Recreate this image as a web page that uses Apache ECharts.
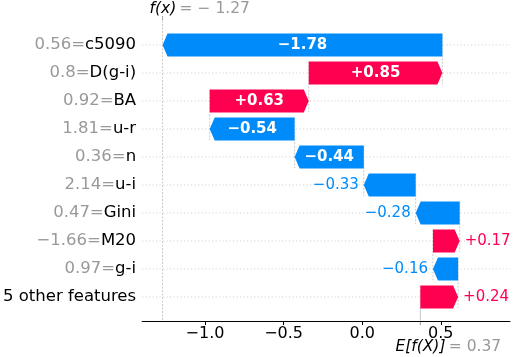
<!DOCTYPE html>
<html>
<head>
<meta charset="utf-8">
<script src="https://cdn.jsdelivr.net/npm/echarts@6/dist/echarts.min.js"></script>
<style>
  html, body { margin: 0; padding: 0; background: #fff; }
  #chart { width: 515px; height: 357px; }
</style>
</head>
<body>
<div id="chart"></div>
<script>
// Donnees (ordre du haut vers le bas)
const features = ['c5090', 'D(g-i)', 'BA', 'u-r', 'n', 'u-i', 'Gini', 'M20', 'g-i', '5 other features'];
const featureValues = ['0.56', '0.8', '0.92', '1.81', '0.36', '2.14', '0.47', '-1.66', '0.97', null];
const shapValues = [-1.78, 0.85, 0.63, -0.54, -0.44, -0.33, -0.28, 0.17, -0.16, 0.24];
const baseValue = 0.37;
const xTicks = [-1.0, -0.5, 0.0, 0.5];

const POS = '#ff0051';
const NEG = '#008bfb';
const FONT = 'DejaVu Sans';
const Y_MIN = -1, Y_MAX = 9.86;

const minus = s => String(s).replace('-', '\u2212');

// cumul : la ligne du bas part de E[f(X)]
const starts = [];
let acc = baseValue;
for (let i = shapValues.length - 1; i >= 0; i--) {
    starts[i] = acc;
    acc += shapValues[i];
}
const fx = acc;

const barData = shapValues.map((v, i) => [starts[i], starts[i] + v, i, v]);
const rowData = features.map((_, i) => [0, i]);
// traits verticaux : depart de chaque barre, f(x) sur toute la hauteur, E[f(X)] en bas
const connectorData = starts.map((s, i) => [s, i - 0.4, i + 1.4]);
connectorData.push([fx, Y_MIN, Y_MAX]);
connectorData.push([baseValue, Y_MAX - (Y_MAX - Y_MIN) / 10, Y_MAX]);

function renderRow(params, api) {
    const cs = params.coordSys;
    const y = api.coord([0, api.value(1)])[1];
    return {
        type: 'line',
        shape: { x1: cs.x, y1: y, x2: cs.x + cs.width, y2: y },
        style: { stroke: '#cccccc', lineWidth: 1, lineDash: [1, 2.5] }
    };
}

function renderConnector(params, api) {
    const cs = params.coordSys;
    const x = api.coord([api.value(0), 0])[0];
    let y0 = api.coord([0, api.value(1)])[1];
    let y1 = api.coord([0, api.value(2)])[1];
    y0 = Math.max(cs.y, Math.min(cs.y + cs.height, y0));
    y1 = Math.max(cs.y, Math.min(cs.y + cs.height, y1));
    return {
        type: 'line',
        shape: { x1: x, y1: y0, x2: x, y2: y1 },
        style: { stroke: '#bbbbbb', lineWidth: 0.8, lineDash: [2, 1.5] }
    };
}

function renderBar(params, api) {
    const v = api.value(3);
    const row = api.value(2);
    const p0 = api.coord([api.value(0), row]);
    const p1 = api.coord([api.value(1), row]);
    const h = api.size([0, 1])[1] * 0.82;
    const y = p0[1], top = y - h / 2, bot = y + h / 2;
    const dir = v >= 0 ? 1 : -1;
    const len = Math.abs(p1[0] - p0[0]);
    const head = Math.min(5, len);
    const tipBase = p1[0] - dir * head;
    const color = v >= 0 ? POS : NEG;
    const txt = (v >= 0 ? '+' : '\u2212') + Math.abs(v).toFixed(2);
    const inside = len > 60;
    const label = inside ? {
        type: 'text',
        style: {
            x: (p0[0] + p1[0]) / 2, y: y, text: txt, fill: '#fff',
            fontSize: 15, fontWeight: 'bold', fontFamily: FONT,
            align: 'center', verticalAlign: 'middle'
        }
    } : {
        type: 'text',
        style: {
            x: p1[0] + dir * 5, y: y, text: txt, fill: color,
            fontSize: 15, fontFamily: FONT,
            align: dir > 0 ? 'left' : 'right', verticalAlign: 'middle'
        }
    };
    return {
        type: 'group',
        children: [
            {
                type: 'polygon',
                shape: { points: [[p0[0], top], [tipBase, top], [p1[0], y], [tipBase, bot], [p0[0], bot]] },
                style: { fill: color }
            },
            label
        ]
    };
}

const chart = echarts.init(document.getElementById('chart'));
chart.setOption({
    animation: false,
    grid: { left: 142, right: 5, top: 17, bottom: 36 },
    xAxis: {
        type: 'value',
        min: -1.4,
        max: 0.94,
        axisLine: { show: true, onZero: false, lineStyle: { color: '#000', width: 1 } },
        axisTick: { show: true, customValues: xTicks, length: 4, lineStyle: { color: '#000' } },
        axisLabel: {
            customValues: xTicks,
            formatter: v => minus(v.toFixed(1)),
            color: '#000', fontSize: 16, fontFamily: FONT, margin: 5
        },
        splitLine: { show: false }
    },
    yAxis: {
        type: 'value',
        inverse: true,
        min: Y_MIN,
        max: Y_MAX,
        axisLine: { show: false, onZero: false },
        axisTick: { show: false },
        splitLine: { show: false },
        axisLabel: {
            customValues: features.map((_, i) => i),
            margin: 6,
            formatter: v => {
                const i = Math.round(v);
                const val = featureValues[i];
                return (val !== null ? '{v|' + minus(val) + '=}' : '') + '{n|' + features[i] + '}';
            },
            rich: {
                v: { color: '#999999', fontSize: 16.5, fontFamily: FONT },
                n: { color: '#000', fontSize: 16.5, fontFamily: FONT }
            }
        }
    },
    series: [
        { type: 'custom', renderItem: renderRow, data: rowData, z: 1, silent: true },
        { type: 'custom', renderItem: renderConnector, data: connectorData, z: 2, silent: true },
        { type: 'custom', renderItem: renderBar, data: barData, z: 3 }
    ]
});

// libelles f(x) en haut et E[f(X)] en bas, places sur l'echelle de l'axe
const fxPx = chart.convertToPixel({ xAxisIndex: 0 }, fx);
const basePx = chart.convertToPixel({ xAxisIndex: 0 }, baseValue);
const yTop = chart.convertToPixel({ yAxisIndex: 0 }, Y_MIN);
const yBot = chart.convertToPixel({ yAxisIndex: 0 }, Y_MAX);
chart.setOption({
    graphic: [
        {
            type: 'line', shape: { x1: fxPx, y1: yTop - 1, x2: fxPx, y2: yTop + 3 },
            style: { stroke: '#999999', lineWidth: 1 }
        },
        {
            type: 'line', shape: { x1: basePx, y1: yBot, x2: basePx, y2: yBot + 4 },
            style: { stroke: '#999999', lineWidth: 1 }
        },
        {
            type: 'text', x: fxPx - 13, y: 9,
            style: {
                text: '{a|f(x)} {b|= \u2212 ' + Math.abs(fx).toFixed(2) + '}',
                verticalAlign: 'middle', align: 'left',
                rich: {
                    a: { fill: '#000', fontSize: 15.5, fontFamily: FONT, fontStyle: 'italic' },
                    b: { fill: '#999999', fontSize: 15.5, fontFamily: FONT }
                }
            }
        },
        {
            type: 'text', x: basePx - 25, y: 347,
            style: {
                text: '{a|E[f(X)]} {b|= ' + baseValue.toFixed(2) + '}',
                verticalAlign: 'middle', align: 'left',
                rich: {
                    a: { fill: '#000', fontSize: 15.5, fontFamily: FONT, fontStyle: 'italic' },
                    b: { fill: '#999999', fontSize: 15.5, fontFamily: FONT }
                }
            }
        }
    ]
});
</script>
</body>
</html>
